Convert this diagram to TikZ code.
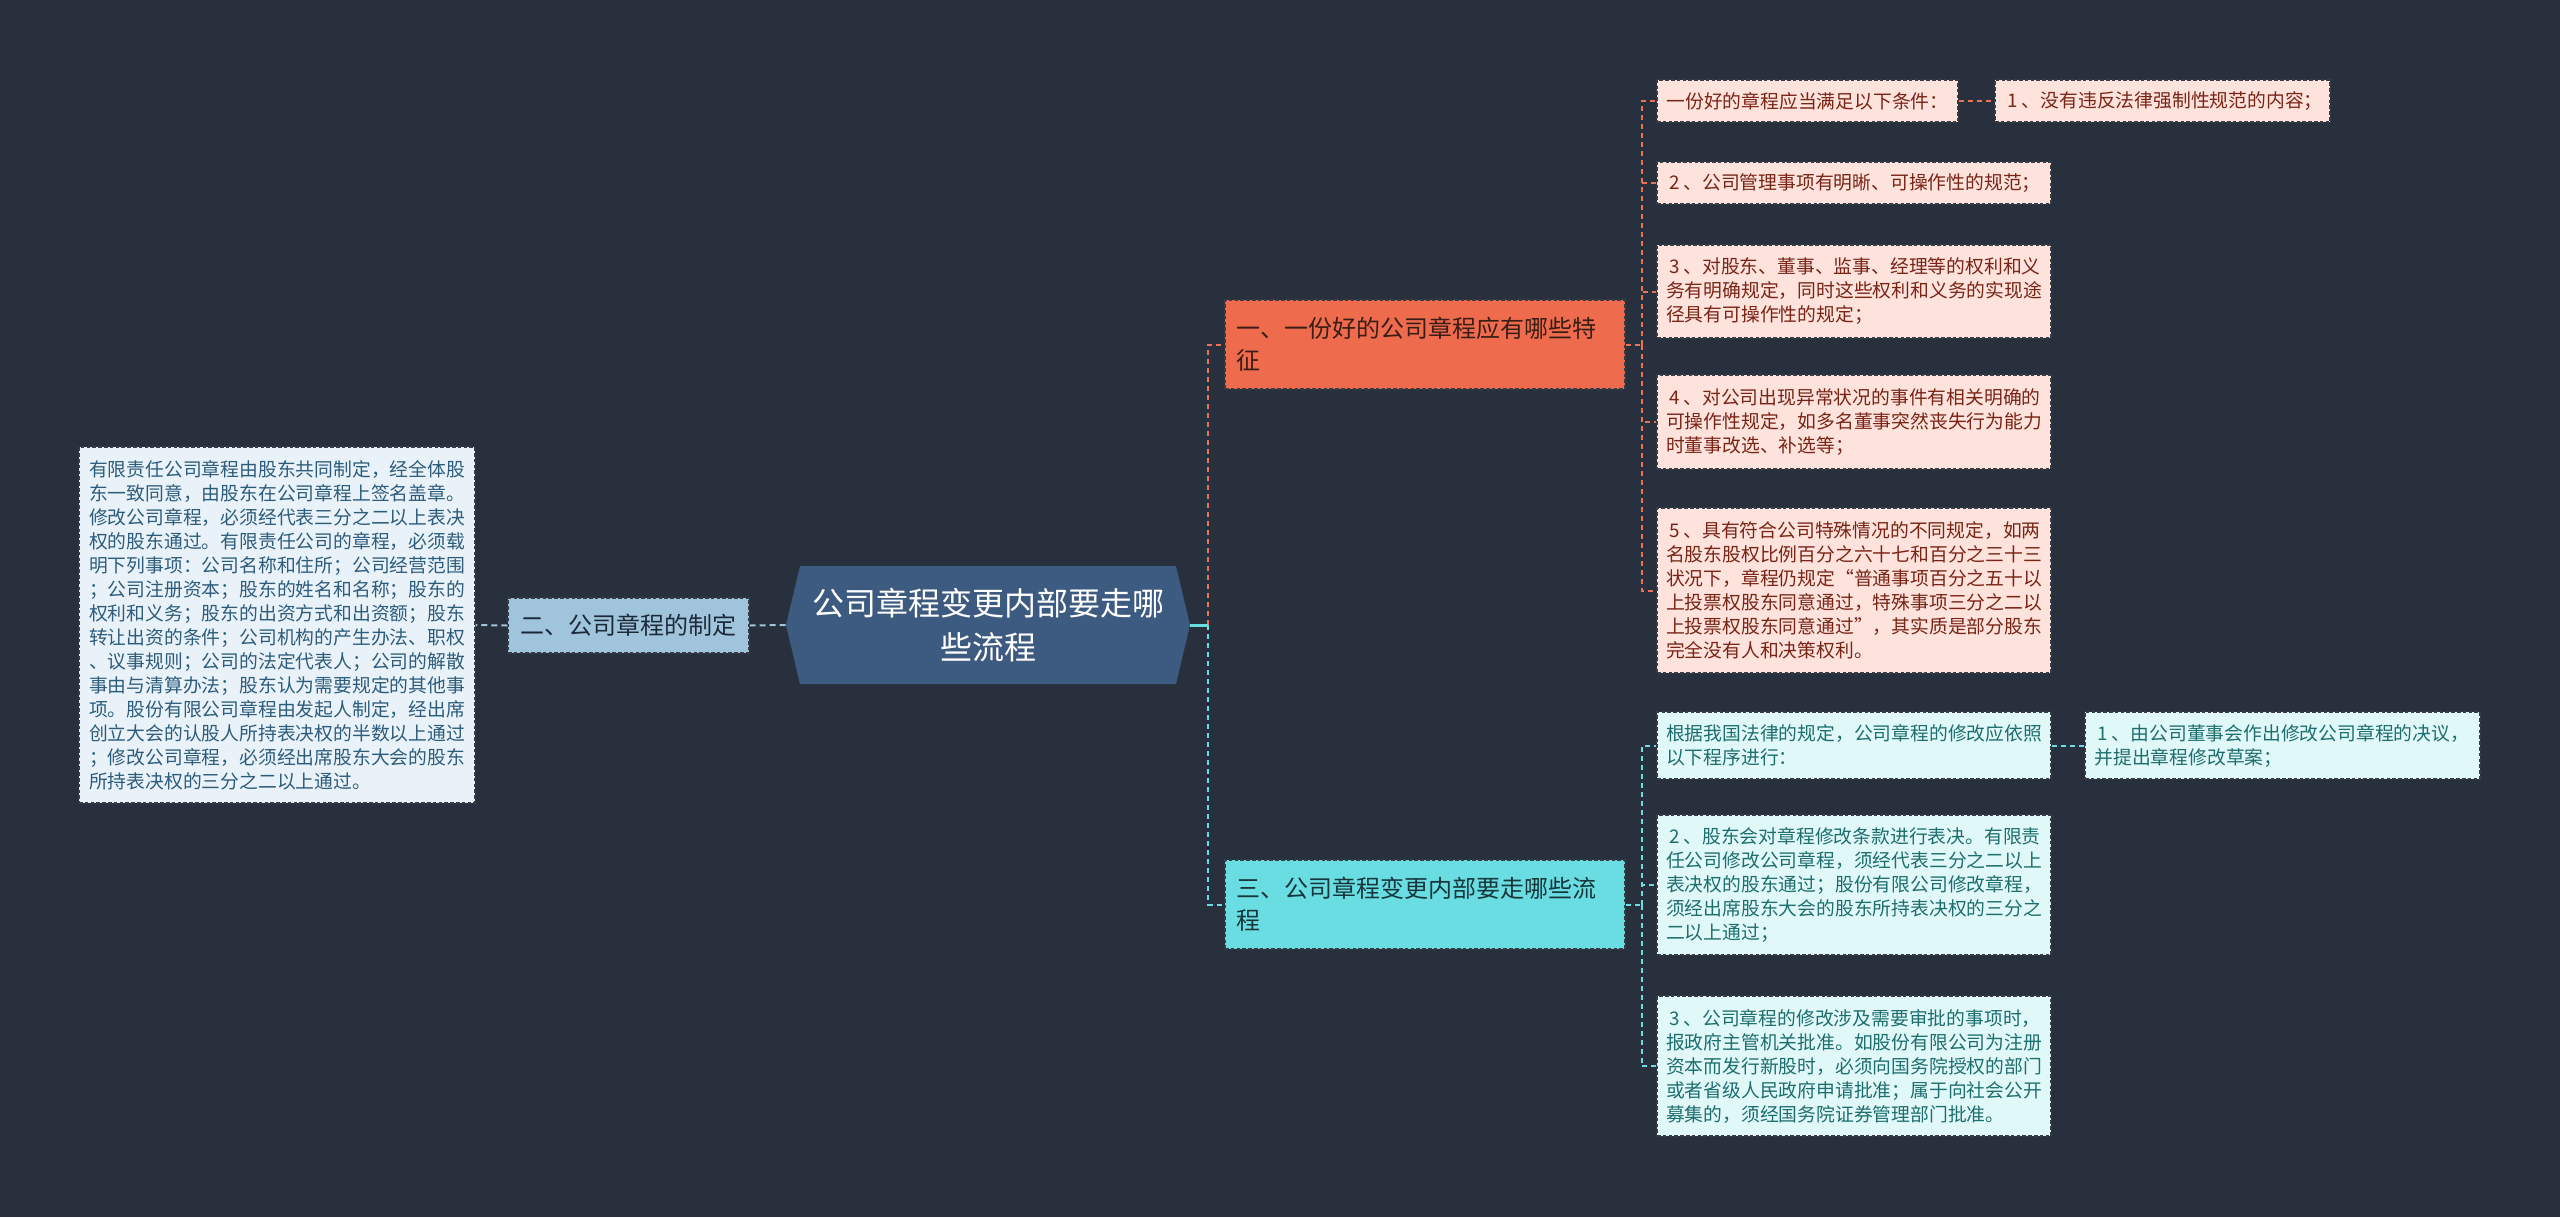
\documentclass[tikz,border=0pt]{standalone}
\usepackage{fontspec}
\setmainfont{Noto Sans CJK SC}
\usetikzlibrary{calc}
\definecolor{cbg}{HTML}{282F3D}
\definecolor{crootfill}{HTML}{3D5B80}
\definecolor{cleftfill}{HTML}{A0C4DC}
\definecolor{clefttext}{HTML}{1C2A38}
\definecolor{cnotefill}{HTML}{E8F2F8}
\definecolor{cnotetext}{HTML}{2E5C7C}
\definecolor{corange}{HTML}{EE6B4E}
\definecolor{corangetext}{HTML}{3A1E16}
\definecolor{ccyan}{HTML}{6ADDE3}
\definecolor{ccyantext}{HTML}{15363A}
\definecolor{cpink}{HTML}{FDE3DC}
\definecolor{cpinktext}{HTML}{7A2416}
\definecolor{clcyan}{HTML}{E0F8F8}
\definecolor{clcyantext}{HTML}{1E6E6E}
\definecolor{coline}{HTML}{EC7256}
\definecolor{cboxline}{HTML}{363B46}
\newcommand{\numgap}[1]{\hspace*{1.5pt}#1\nobreak\hspace*{2pt}}
\tikzset{
  box/.style={draw=cboxline, dash pattern=on 1.8pt off 1.1pt, line width=0.75pt, inner ysep=0pt, anchor=center},
  smallfont/.style={font=\fontsize{9.4pt}{12pt}\selectfont},
  midfont/.style={font=\fontsize{12pt}{16pt}\selectfont},
  detail/.style={box, smallfont, text width=188pt, inner xsep=4.5pt, align=left, minimum width=197pt},
  pinkbox/.style={detail, fill=cpink, text=cpinktext},
  lcyanbox/.style={detail, fill=clcyan, text=clcyantext},
  rootbox/.style={font=\fontsize{16pt}{22pt}\selectfont, text=white, align=center,
     text width=190pt, inner xsep=6pt, inner ysep=0pt, minimum width=202pt, minimum height=59pt,
     path picture={\fill[crootfill] (path picture bounding box.west)
        -- ($(path picture bounding box.north west)+(14,0)$)
        -- ($(path picture bounding box.north east)+(-14,0)$)
        -- (path picture bounding box.east)
        -- ($(path picture bounding box.south east)+(-14,0)$)
        -- ($(path picture bounding box.south west)+(14,0)$) -- cycle;}},
  leftbox/.style={box, midfont, fill=cleftfill, text=clefttext, inner xsep=0pt, minimum width=120.5pt, minimum height=27.5pt},
  notebox/.style={box, smallfont, fill=cnotefill, text=cnotetext, text width=188pt, inner xsep=5pt, align=left, minimum width=198pt, minimum height=178pt},
  mainbox/.style={box, midfont, text width=189pt, inner xsep=5.5pt, align=left, minimum width=200pt, minimum height=44.5pt},
  olink/.style={draw=coline, line width=1pt, dash pattern=on 2.5pt off 2pt},
  clink/.style={draw=ccyan, line width=1pt, dash pattern=on 2.5pt off 2pt},
  blink/.style={draw=cleftfill, line width=1pt, dash pattern=on 3pt off 2pt},
}
\begin{document}
\begin{tikzpicture}[x=0.5pt,y=-0.5pt]
\fill[cbg] (0,0) rectangle (2560,1217);
\useasboundingbox (0,0) rectangle (2560,1217);

% root
\node[rootbox] (root) at (988,625) {公司章程变更内部要走哪\\些流程};

% left branch
\node[leftbox] (L1) at (628.5,625.5) {二、公司章程的制定};
\node[notebox] (L2) at (277,625) {有限责任公司章程由股东共同制定，经全体股\\东一致同意，由股东在公司章程上签名盖章。\\修改公司章程，必须经代表三分之二以上表决\\权的股东通过。有限责任公司的章程，必须载\\明下列事项：公司名称和住所；公司经营范围\\；公司注册资本；股东的姓名和名称；股东的\\权利和义务；股东的出资方式和出资额；股东\\转让出资的条件；公司机构的产生办法、职权\\、议事规则；公司的法定代表人；公司的解散\\事由与清算办法；股东认为需要规定的其他事\\项。股份有限公司章程由发起人制定，经出席\\创立大会的认股人所持表决权的半数以上通过\\；修改公司章程，必须经出席股东大会的股东\\所持表决权的三分之二以上通过。};

% main right branches
\node[mainbox, fill=corange, text=corangetext] (O) at (1425,344.5) {一、一份好的公司章程应有哪些特\\征};
\node[mainbox, fill=ccyan, text=ccyantext] (C) at (1425,904.5) {三、公司章程变更内部要走哪些流\\程};

% orange children
\node[pinkbox, text width=141pt, minimum width=150.5pt, inner xsep=4.75pt, minimum height=21pt] (A0) at (1807.5,101) {一份好的章程应当满足以下条件：};
\node[pinkbox, text width=158pt, minimum width=167.5pt, inner xsep=4.75pt, minimum height=21pt] (A0b) at (2162.5,101) {\numgap{1}、没有违反法律强制性规范的内容；};
\node[pinkbox, minimum height=21pt] (A2) at (1854,183) {\numgap{2}、公司管理事项有明晰、可操作性的规范；};
\node[pinkbox, minimum height=46.5pt] (A3) at (1854,291.5) {\numgap{3}、对股东、董事、监事、经理等的权利和义\\务有明确规定，同时这些权利和义务的实现途\\径具有可操作性的规定；};
\node[pinkbox, minimum height=47pt] (A4) at (1854,422) {\numgap{4}、对公司出现异常状况的事件有相关明确的\\可操作性规定，如多名董事突然丧失行为能力\\时董事改选、补选等；};
\node[pinkbox, minimum height=82.5pt] (A5) at (1854,590.5) {\numgap{5}、具有符合公司特殊情况的不同规定，如两\\名股东股权比例百分之六十七和百分之三十三\\状况下，章程仍规定“普通事项百分之五十以\\上投票权股东同意通过，特殊事项三分之二以\\上投票权股东同意通过”，其实质是部分股东\\完全没有人和决策权利。};

% cyan children
\node[lcyanbox, minimum height=33.5pt] (C0) at (1854,745.5) {根据我国法律的规定，公司章程的修改应依照\\以下程序进行：};
\node[lcyanbox, minimum height=33.5pt, minimum width=197.5pt] (C0b) at (2282.5,745.5) {\numgap{1}、由公司董事会作出修改公司章程的决议，\\并提出章程修改草案；};
\node[lcyanbox, minimum height=70pt] (C1) at (1854,885) {\numgap{2}、股东会对章程修改条款进行表决。有限责\\任公司修改公司章程，须经代表三分之二以上\\表决权的股东通过；股份有限公司修改章程，\\须经出席股东大会的股东所持表决权的三分之\\二以上通过；};
\node[lcyanbox, minimum height=70pt] (C2) at (1854,1066) {\numgap{3}、公司章程的修改涉及需要审批的事项时，\\报政府主管机关批准。如股份有限公司为注册\\资本而发行新股时，必须向国务院授权的部门\\或者省级人民政府申请批准；属于向社会公开\\募集的，须经国务院证券管理部门批准。};

% connectors
\coordinate (J) at ($(root.east)+(18,0)$);
\coordinate (JO) at ($(O.east)+(16,0)$);
\coordinate (JC) at ($(C.east)+(16,0)$);

\draw[blink] (root.west) -- (L1.east);
\draw[blink] (L1.west) -- (L2.east);

\draw[olink] (J) |- (O.west);
\draw[clink] (J) |- (C.west);
\draw[draw=ccyan, line width=1.5pt] (root.east) -- (J);

\draw[olink] (O.east) -- (JO);
\foreach \n in {A0,A2,A3,A4,A5} { \draw[olink] (JO) |- (\n.west); }
\draw[olink] (A0.east) -- (A0b.west);

\draw[clink] (C.east) -- (JC);
\foreach \n in {C0,C1,C2} { \draw[clink] (JC) |- (\n.west); }
\draw[clink] (C0.east) -- (C0b.west);
\end{tikzpicture}
\end{document}
